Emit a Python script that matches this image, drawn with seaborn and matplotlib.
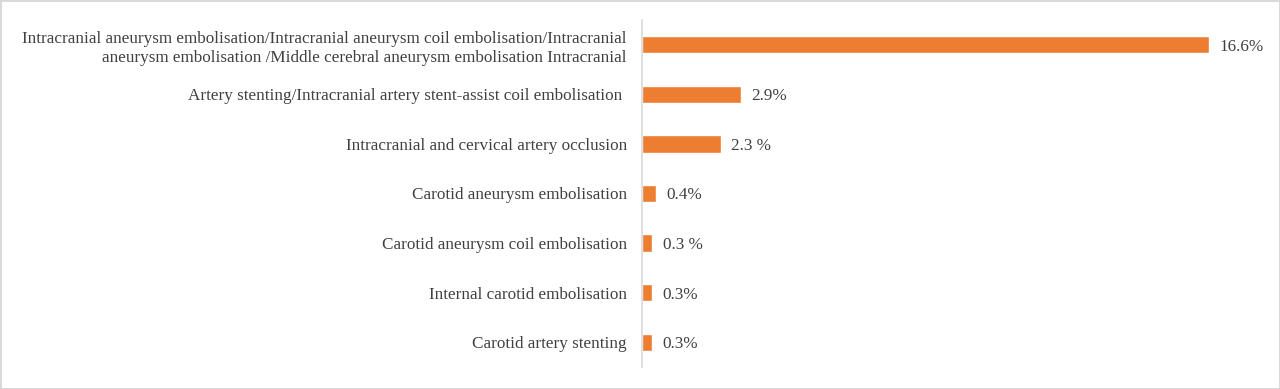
import matplotlib
matplotlib.use("Agg")
import matplotlib.pyplot as plt
import seaborn as sns
import pandas as pd

categories = [
    "Intracranial aneurysm embolisation/Intracranial aneurysm coil embolisation/Intracranial\naneurysm embolisation /Middle cerebral aneurysm embolisation Intracranial",
    "Artery stenting/Intracranial artery stent-assist coil embolisation ",
    "Intracranial and cervical artery occlusion",
    "Carotid aneurysm embolisation",
    "Carotid aneurysm coil embolisation",
    "Internal carotid embolisation",
    "Carotid artery stenting",
]
values = [16.6, 2.9, 2.3, 0.4, 0.3, 0.3, 0.3]
value_labels = ["16.6%", "2.9%", "2.3 %", "0.4%", "0.3 %", "0.3%", "0.3%"]

df = pd.DataFrame({"category": categories, "value": values})

sns.set_style("white")
plt.rcParams["font.family"] = ["Liberation Serif", "DejaVu Serif"]

fig = plt.figure(figsize=(12.8, 3.89), dpi=100)
fig.patch.set_edgecolor("#D9D9D9")
fig.patch.set_linewidth(2)
ax = fig.add_axes([0.5016, 0.0566, 0.478, 0.892])

sns.barplot(data=df, x="value", y="category", orient="h", color="#ED7D31",
            saturation=1, width=0.35, ax=ax)

ax.set_xlim(0, 17.9)
ax.set_ylim(6.5, -0.5)
ax.set_xlabel("")
ax.set_ylabel("")
ax.set_xticks([])
for s in ["top", "right", "bottom"]:
    ax.spines[s].set_visible(False)
ax.spines["left"].set_color("#D9D9D9")
ax.spines["left"].set_linewidth(1.2)
ax.tick_params(axis="y", length=0, pad=11, labelsize=12.3, labelcolor="#404040")
for t in ax.get_yticklabels():
    t.set_linespacing(1.3)

for i, (v, lab) in enumerate(zip(values, value_labels)):
    ax.text(v + 0.3, i, lab, va="center_baseline", ha="left", fontsize=12.3, color="#404040")

fig.savefig("out.png", dpi=100, edgecolor=fig.get_edgecolor())
